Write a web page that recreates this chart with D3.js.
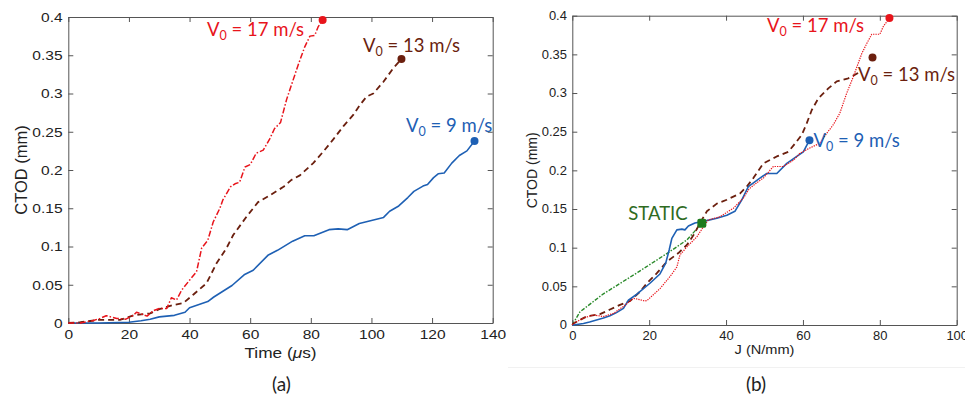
<!DOCTYPE html>
<html>
<head>
<meta charset="utf-8">
<script src="https://cdn.jsdelivr.net/npm/d3@7"></script>
<style>
  body { margin: 0; background: #fff; }
  svg { display: block; }
</style>
</head>
<body>
<svg id="fig" width="965" height="399"></svg>
<script>
// ---------- Panel (a): CTOD vs time ----------
const timeTicks = [0, 20, 40, 60, 80, 100, 120, 140];
const ctodTicks = [0, 0.05, 0.1, 0.15, 0.2, 0.25, 0.3, 0.35, 0.4];
const ctodTickLabels = ["0", "0.05", "0.1", "0.15", "0.2", "0.25", "0.3", "0.35", "0.4"];

const timeV9 = [0, 10, 20, 24, 27, 30, 35, 38.5, 40, 46, 48, 54, 58, 61, 66, 69, 74, 78, 81, 86, 89, 92, 96, 100, 104, 106, 109, 112, 114, 117, 118.5, 120.5, 122, 124, 126.5, 129, 131.5, 134];
const ctodV9 = [0, 0, 0.001, 0.003, 0.005, 0.008, 0.010, 0.014, 0.020, 0.028, 0.034, 0.049, 0.063, 0.069, 0.089, 0.095, 0.107, 0.114, 0.114, 0.122, 0.123, 0.122, 0.130, 0.134, 0.138, 0.146, 0.153, 0.164, 0.172, 0.179, 0.181, 0.190, 0.195, 0.196, 0.209, 0.219, 0.225, 0.238];

const timeV13 = [0, 4, 10, 17, 21.5, 27, 30, 34.6, 37.9, 41.2, 45.6, 48.9, 52.2, 54.4, 58.8, 62.6, 66.5, 71, 73.6, 76.4, 80.8, 84.1, 87.4, 90.7, 94, 96.2, 98.4, 100.6, 103.9, 107.2, 109.9];
const ctodV13 = [0, 0.001, 0.004, 0.004, 0.010, 0.0126, 0.018, 0.0235, 0.026, 0.037, 0.052, 0.078, 0.098, 0.115, 0.139, 0.158, 0.167, 0.178, 0.187, 0.193, 0.209, 0.224, 0.240, 0.257, 0.272, 0.285, 0.296, 0.300, 0.315, 0.333, 0.345];

const timeV17 = [0, 4, 8, 10.5, 12.5, 14, 16, 19, 21.5, 22.5, 24, 26, 28, 30, 32.5, 34, 35.7, 37.4, 40, 42.3, 44, 46, 47.8, 50, 51, 53.5, 55, 56.5, 58.3, 60, 62, 64.3, 66.5, 68, 70, 72, 73.6, 75.8, 78, 79.7, 81.3, 82.4, 83.9];
const ctodV17 = [0, 0, 0.003, 0.006, 0.0095, 0.008, 0.006, 0.005, 0.010, 0.014, 0.012, 0.009, 0.016, 0.019, 0.019, 0.033, 0.030, 0.043, 0.056, 0.067, 0.098, 0.108, 0.132, 0.150, 0.161, 0.178, 0.182, 0.184, 0.204, 0.207, 0.222, 0.226, 0.241, 0.254, 0.262, 0.292, 0.311, 0.337, 0.361, 0.375, 0.376, 0.387, 0.396];

// ---------- Panel (b): CTOD vs J ----------
const jTicks = [0, 20, 40, 60, 80, 100];

const jV9 = [0, 0.3, 2.9, 4.5, 8.1, 9.8, 11.5, 13.3, 14.6, 16.8, 20.2, 22.8, 24.3, 25.2, 25.9, 27.2, 28.5, 29.3, 30.2, 31.9, 34.1, 37.6, 40.2, 42.3, 44.1, 45.8, 48.8, 50.6, 53.2, 55.8, 58.4, 60.1, 61.7];
const ctodJV9 = [0, 0, 0.002, 0.004, 0.009, 0.012, 0.016, 0.0215, 0.032, 0.040, 0.054, 0.066, 0.080, 0.097, 0.112, 0.123, 0.124, 0.123, 0.128, 0.132, 0.134, 0.138, 0.142, 0.147, 0.162, 0.179, 0.190, 0.196, 0.196, 0.209, 0.218, 0.224, 0.239];

const jV13 = [0, 0.3, 3.7, 7.2, 9.8, 12.4, 15, 17.6, 19.4, 22, 24.6, 27.6, 29.8, 31.5, 33.7, 35, 37.6, 40.2, 43.6, 45.4, 47.1, 49.7, 53.2, 56.2, 58, 59.7, 61, 62.3, 64, 66.6, 68.8, 71.8, 74.4];
const ctodJV13 = [0, 0.002, 0.011, 0.014, 0.020, 0.026, 0.031, 0.043, 0.054, 0.067, 0.082, 0.093, 0.1035, 0.116, 0.136, 0.147, 0.157, 0.162, 0.170, 0.179, 0.190, 0.209, 0.218, 0.224, 0.235, 0.246, 0.261, 0.278, 0.293, 0.306, 0.315, 0.319, 0.326];

const jV17 = [0, 0.3, 2.9, 5.5, 8.1, 10.7, 13.3, 15.9, 16.5, 18.9, 19.4, 22.8, 25.4, 27.2, 28, 29.8, 32.4, 34.1, 35.4, 38.4, 41.9, 44.5, 46, 48, 49.7, 52.3, 54.9, 57.5, 59.2, 61.8, 64.4, 66.2, 67.9, 69.6, 71.4, 73.1, 75.3, 76.6, 77.9, 80, 80.9, 82.5];
const ctodJV17 = [0, 0.002, 0.009, 0.013, 0.011, 0.015, 0.024, 0.0345, 0.034, 0.031, 0.0315, 0.047, 0.0625, 0.075, 0.0905, 0.101, 0.114, 0.127, 0.136, 0.140, 0.151, 0.164, 0.176, 0.184, 0.190, 0.205, 0.205, 0.213, 0.222, 0.229, 0.235, 0.248, 0.259, 0.274, 0.300, 0.321, 0.351, 0.364, 0.376, 0.376, 0.386, 0.397];

const jStatic = [0, 2, 8, 17, 25.4, 29.8, 33.7];
const ctodStatic = [0, 0.017, 0.040, 0.068, 0.095, 0.110, 0.1315];

// end-of-test markers: [x, ctod]
const endA = { v9: [134, 0.238], v13: [109.9, 0.345], v17: [83.9, 0.396] };
const endB = { v9: [61.7, 0.239], v13: [78.1, 0.346], v17: [82.5, 0.397], stat: [33.7, 0.1315] };

// ---------- styling ----------
const RED = "#e8141b", BROWN = "#6b1f0e", BLUE = "#1e60b4", GREEN = "#2a8a2a", GREEN_TXT = "#2f6b1f";
const AXIS = "#555";

const svg = d3.select("#fig");
svg.append("rect").attr("width", 965).attr("height", 399).attr("fill", "#fff");

// faint edge of the second figure panel
svg.append("line").attr("x1", 508).attr("x2", 965).attr("y1", 367.5).attr("y2", 367.5)
  .attr("stroke", "#f1f1f1").attr("stroke-width", 1);

function drawPanel(o) {
  const x = d3.scaleLinear().domain(o.xDomain).range([o.left, o.right]);
  const y = d3.scaleLinear().domain([0, 0.4]).range([o.bottom, o.top]);
  const g = svg.append("g");

  const tick = 5;
  const bottom = g.append("g").attr("transform", `translate(0,${o.bottom})`)
    .call(d3.axisBottom(x).tickValues(o.xTicks).tickFormat(d3.format("d"))
      .tickSizeInner(-tick).tickSizeOuter(0).tickPadding(6));
  const left = g.append("g").attr("transform", `translate(${o.left},0)`)
    .call(d3.axisLeft(y).tickValues(ctodTicks).tickFormat((d, i) => ctodTickLabels[i])
      .tickSizeInner(-tick).tickSizeOuter(0).tickPadding(5));
  g.append("g").attr("transform", `translate(0,${o.top})`)
    .call(d3.axisTop(x).tickValues(o.xTicks).tickFormat("").tickSizeInner(-tick).tickSizeOuter(0));
  g.append("g").attr("transform", `translate(${o.right},0)`)
    .call(d3.axisRight(y).tickValues(ctodTicks).tickFormat("").tickSizeInner(-tick).tickSizeOuter(0));

  g.selectAll(".domain, .tick line").attr("stroke", AXIS).attr("stroke-width", 1);
  g.selectAll(".tick text").attr("fill", "#222").attr("font-family", "Liberation Sans, Arial, sans-serif")
    .attr("font-size", o.tickFont);
  bottom.selectAll(".tick text").attr("transform", `scale(${o.sx},1)`);
  left.selectAll(".tick text").attr("transform", `scale(${o.sx},1)`);

  const line = d3.line().x(d => x(d[0])).y(d => y(d[1]));
  o.series.forEach(s => {
    g.append("path").datum(d3.zip(s.xs, s.ys)).attr("d", line)
      .attr("fill", "none").attr("stroke", s.color).attr("stroke-width", s.width)
      .attr("stroke-dasharray", s.dash).attr("stroke-linejoin", "round");
  });
  o.markers.forEach(m => {
    if (m.square) {
      g.append("rect").attr("x", x(m.p[0]) - 4.5).attr("y", y(m.p[1]) - 4.5)
        .attr("width", 9).attr("height", 9).attr("rx", 2).attr("fill", m.color);
    } else {
      g.append("circle").attr("cx", x(m.p[0])).attr("cy", y(m.p[1])).attr("r", 4).attr("fill", m.color);
    }
  });

  // axis titles
  g.append("text").attr("x", 0).attr("y", 0)
    .attr("transform", `translate(${(o.left + o.right) / 2},${o.xTitleY}) scale(${o.sx},1)`)
    .attr("text-anchor", "middle").attr("font-family", "Liberation Sans, Arial, sans-serif")
    .attr("font-size", o.titleFont).attr("fill", "#222")
    .call(t => o.xTitle(t));
  g.append("text")
    .attr("transform", `translate(${o.yTitleX},${(o.top + o.bottom) / 2}) rotate(-90)`)
    .attr("text-anchor", "middle").attr("font-family", "Liberation Sans, Arial, sans-serif")
    .attr("font-size", o.yTitleFont).attr("fill", "#222").text("CTOD (mm)");
  return { x, y };
}

drawPanel({
  left: 68.3, right: 492.7, top: 17, bottom: 323,
  xDomain: [0, 140], xTicks: timeTicks, sx: 1.15, tickFont: 13.5, titleFont: 15,
  xTitleY: 358, yTitleX: 27, yTitleFont: 16.5,
  xTitle: t => {
    t.append("tspan").text("Time (");
    t.append("tspan").attr("font-style", "italic").text("\u03BC");
    t.append("tspan").text("s)");
  },
  series: [
    { xs: timeV9, ys: ctodV9, color: BLUE, width: 1.6, dash: null },
    { xs: timeV13, ys: ctodV13, color: BROWN, width: 1.8, dash: "6,4" },
    { xs: timeV17, ys: ctodV17, color: RED, width: 1.5, dash: "6,2,1.5,2" }
  ],
  markers: [
    { p: endA.v9, color: BLUE }, { p: endA.v13, color: BROWN }, { p: endA.v17, color: RED }
  ]
});

drawPanel({
  left: 572.3, right: 956.7, top: 15.7, bottom: 325,
  xDomain: [0, 100], xTicks: jTicks, sx: 1.08, tickFont: 12, titleFont: 13.5,
  xTitleY: 354, yTitleX: 537, yTitleFont: 14,
  xTitle: t => t.text("J (N/mm)"),
  series: [
    { xs: jStatic, ys: ctodStatic, color: GREEN, width: 1.4, dash: "4,1.5,1.5,1.5" },
    { xs: jV13, ys: ctodJV13, color: BROWN, width: 1.8, dash: "6,4" },
    { xs: jV9, ys: ctodJV9, color: BLUE, width: 1.6, dash: null },
    { xs: jV17, ys: ctodJV17, color: RED, width: 1.2, dash: "1.3,1.1" }
  ],
  markers: [
    { p: endB.v9, color: BLUE }, { p: endB.v13, color: BROWN }, { p: endB.v17, color: RED },
    { p: endB.stat, color: "#1d7a1d", square: true }
  ]
});

// speed labels
const LABEL_FONT = "Lato, 'Open Sans', sans-serif";
function speedLabel(x, y, speed, color) {
  const t = svg.append("text").attr("x", x).attr("y", y).attr("fill", color)
    .attr("font-family", LABEL_FONT).attr("font-size", 18.5);
  t.append("tspan").text("V");
  t.append("tspan").attr("font-size", 12.5).attr("dy", 4).text("0");
  t.append("tspan").attr("dy", -4).text(` = ${speed} m/s`);
}
speedLabel(207, 36, 17, RED);
speedLabel(363, 51.7, 13, BROWN);
speedLabel(406, 131.7, 9, BLUE);
speedLabel(767, 31.7, 17, RED);
speedLabel(858, 80.7, 13, BROWN);
speedLabel(813.5, 146.7, 9, BLUE);

svg.append("text").attr("x", 628.3).attr("y", 220).attr("fill", GREEN_TXT)
  .attr("font-family", LABEL_FONT).attr("font-size", 18.5).text("STATIC");

// panel captions
[["(a)", 281.5], ["(b)", 756]].forEach(([s, cx]) => {
  svg.append("text").attr("x", cx).attr("y", 391).attr("text-anchor", "middle")
    .attr("font-family", LABEL_FONT).attr("font-size", 19).attr("fill", "#222").text(s);
});
</script>
</body>
</html>
